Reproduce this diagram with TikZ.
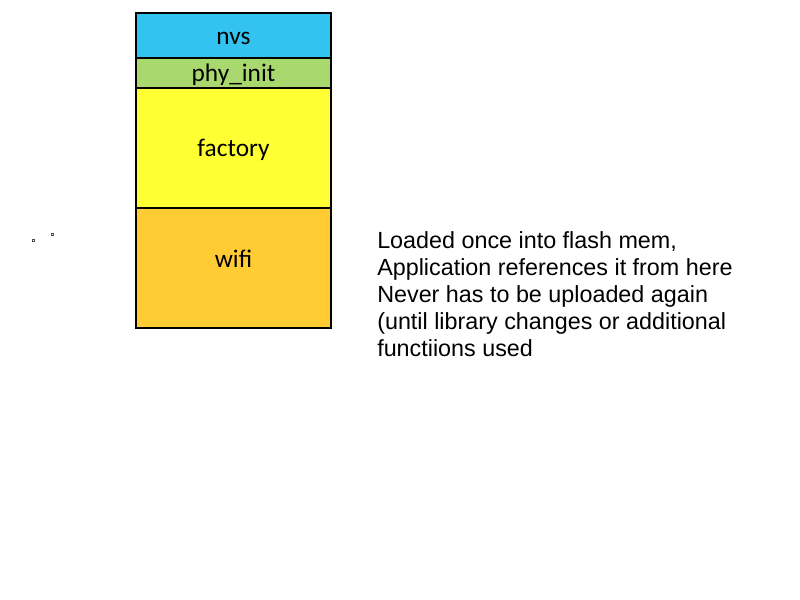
\documentclass[tikz,border=0pt]{standalone}
\usepackage{fontspec}
\setmainfont{Carlito}
\newfontfamily\arialfont{Liberation Sans}
\definecolor{nvscol}{HTML}{33C3F0}
\definecolor{phycol}{HTML}{A9D86E}
\definecolor{faccol}{HTML}{FFFF33}
\definecolor{wificol}{HTML}{FFCC33}
\tikzset{
  part/.style={draw=black, line width=0.9pt},
  parttext/.style={font=\fontsize{19}{22}\selectfont, inner sep=0pt},
  note/.style={font=\arialfont\fontsize{17.5}{21}\selectfont, align=left, anchor=base west, inner sep=0pt},
  speck/.style={draw=black!70, line width=0.4pt}
}
\begin{document}
\begin{tikzpicture}[x=0.75pt,y=-0.75pt]
\useasboundingbox (0,0) rectangle (800,600);
\fill[white] (0,0) rectangle (800,600);
\draw[part, fill=nvscol] (136,13) rectangle (331,58);
\draw[part, fill=phycol] (136,58) rectangle (331,88);
\draw[part, fill=faccol] (136,88) rectangle (331,208);
\draw[part, fill=wificol] (136,208) rectangle (331,328);
\node[parttext] (nvs) at (233.5,38) {nvs};
\node[parttext] (phy) at (233.5,75) {phy\_init};
\node[parttext] (fac) at (233.5,150) {factory};
\node[parttext] (wifi) at (233.5,259) {wifi};
\node[note] (n1) at (377,248) {Loaded once into flash mem,};
\node[note] (n2) at (377,275) {Application references it from here};
\node[note] (n3) at (377,302) {Never has to be uploaded again};
\node[note] (n4) at (377,329) {(until library changes or additional};
\node[note] (n5) at (377,356) {functiions used};
\draw[speck] (32,239) rectangle (34.5,241.5);
\draw[speck] (51,233) rectangle (53.5,235.5);
\end{tikzpicture}
\end{document}
